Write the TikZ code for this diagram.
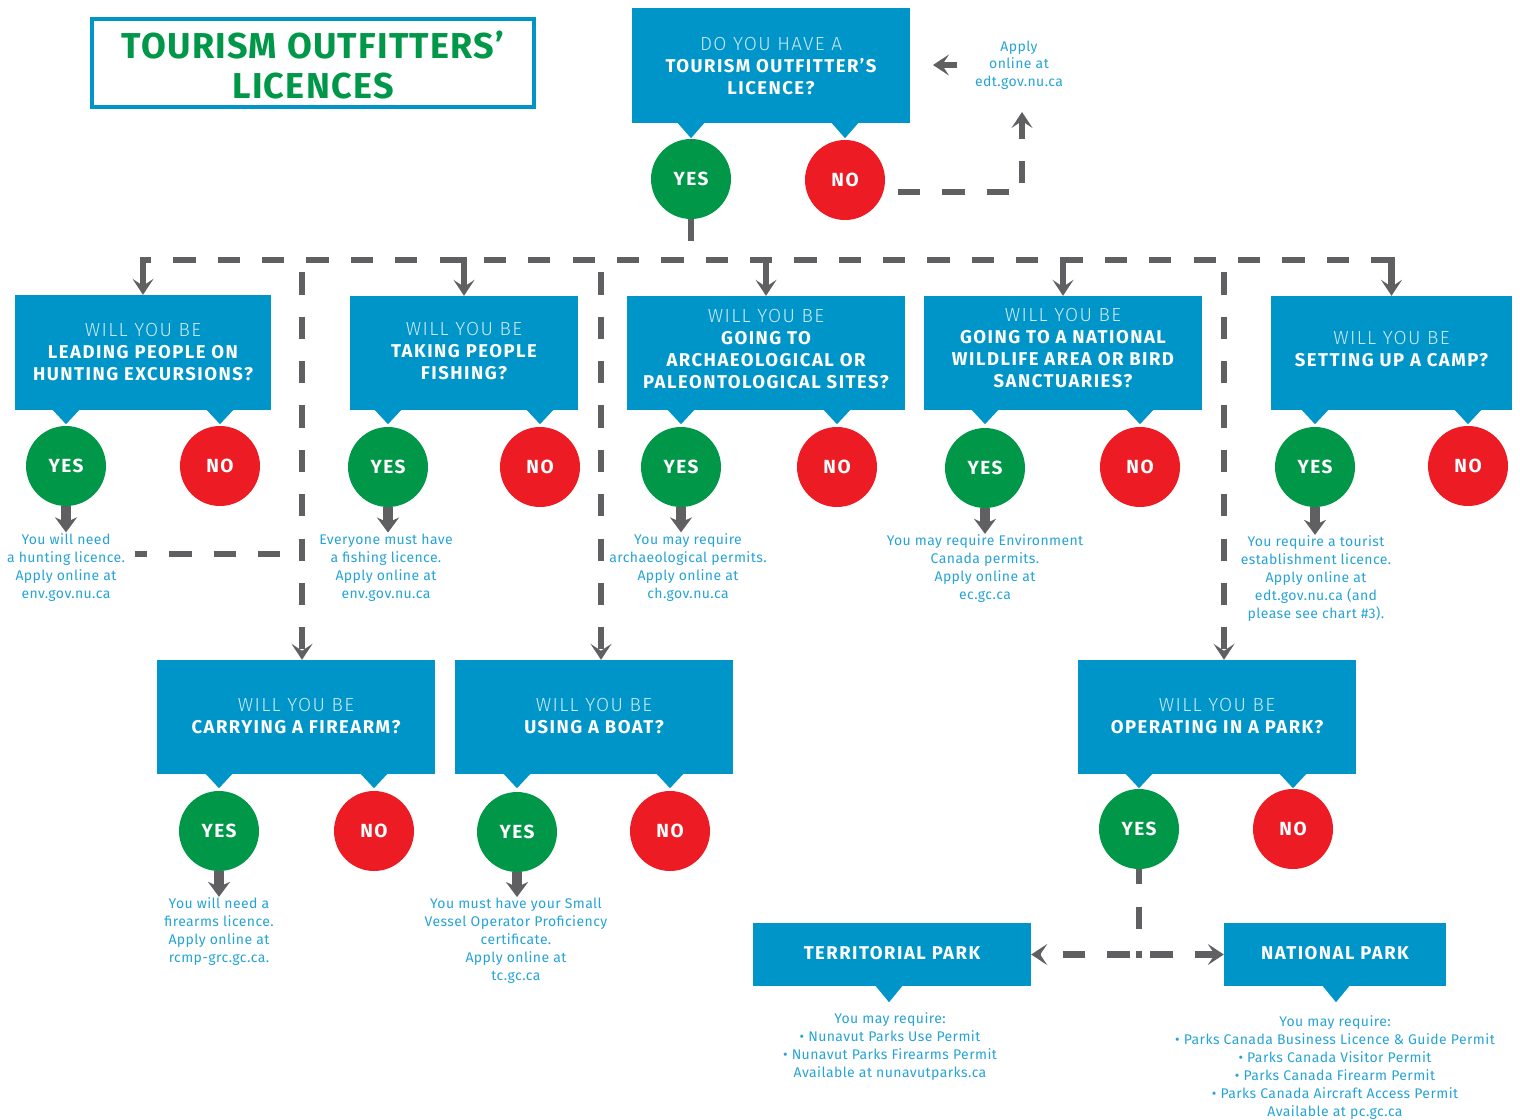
\documentclass[tikz,border=0pt]{standalone}
\usepackage{fontspec}
\setmainfont{Fira Sans}
\newfontfamily\lightf{Fira Sans Light}[LetterSpace=7]
\newfontfamily\boldf{Fira Sans}[LetterSpace=8]
\newfontfamily\circf{Fira Sans}[LetterSpace=8]
\newfontfamily\titlef{Fira Sans}[LetterSpace=3.5]
\newfontfamily\notef{Fira Sans}[LetterSpace=3]
\usetikzlibrary{arrows.meta,calc}
\definecolor{qblue}{RGB}{0,149,200}
\definecolor{ygreen}{RGB}{0,152,72}
\definecolor{nred}{RGB}{237,28,36}
\definecolor{lgrey}{RGB}{96,96,98}
\definecolor{tblue}{RGB}{38,163,213}
\definecolor{wlight}{RGB}{205,233,246}
\newcommand\qfs{\boldf\bfseries\fontsize{18.5}{22}\selectfont}
\newcommand\cfs{\circf\bfseries\fontsize{19}{20}\selectfont}
\newcommand\nfs{\notef\fontsize{14}{18}\selectfont}
\newcommand\wyb[1]{{\lightf\mdseries\fontsize{19}{22}\selectfont\color{wlight}#1}}
\newcommand\ptr[3]{\fill[qblue] ($(#1 |- #2.south)+(-14,-1)$) -- ++(28,0) -- ++(-14,#3) -- cycle;}
\tikzset{
  qbox/.style={fill=qblue, inner sep=0pt},
  qtext/.style={text=white, align=center, inner sep=0pt, font=\qfs},
  yesc/.style={circle, fill=ygreen, minimum size=80pt, inner sep=0pt, text=white, font=\cfs},
  noc/.style={circle, fill=nred, minimum size=80pt, inner sep=0pt, text=white, font=\cfs},
  note/.style={text=tblue, align=center, font=\nfs, inner sep=1pt},
  dashln/.style={draw=lgrey, line width=6.5pt, dash pattern=on 22.2pt off 22.16pt},
  solidln/.style={draw=lgrey, line width=6.5pt},
  dtip/.style={-{Stealth[length=16pt,width=21pt,inset=7pt]}},
  yarr/.style={draw=lgrey, line width=10pt, -{Stealth[length=15pt,width=22pt,inset=5pt]}}
}
\begin{document}
\begin{tikzpicture}[x=1pt,y=-1pt]
\useasboundingbox (0,0) rectangle (1520,1119);
% title
\node[draw=qblue, line width=4pt, minimum width=442pt, minimum height=88pt, inner sep=0pt] (title) at (313,63) {};
\node[text=ygreen, align=center, font=\titlef\bfseries\fontsize{36}{40}\selectfont] (titletext) at (313,65) {TOURISM OUTFITTERS’\\LICENCES};
% top question
\node[qbox, minimum width=278pt, minimum height=115pt] (q0) at (771,65.5) {};
\node[qtext] (q0t) at (771,66) {\wyb{DO YOU HAVE A}\\TOURISM OUTFITTER’S\\LICENCE?};
\node[yesc] (y0) at (691,179) {YES};
\node[noc] (n0) at (845,180) {NO};
\ptr{y0}{q0}{16}\ptr{n0}{q0}{16}
\node[note, font=\notef\fontsize{14}{17.5}\selectfont] (apply) at (1019,65) {Apply\\online at\\edt.gov.nu.ca};
% row 2 questions
\node[qbox, minimum width=256pt, minimum height=115pt] (q1) at (143,352.5) {};
\node[qtext] (q1t) at (143,352.5) {\wyb{WILL YOU BE}\\LEADING PEOPLE ON\\HUNTING EXCURSIONS?};
\node[qbox, minimum width=228pt, minimum height=114pt] (q2) at (464,353) {};
\node[qtext] (q2t) at (464,351) {\wyb{WILL YOU BE}\\TAKING PEOPLE\\FISHING?};
\node[qbox, minimum width=278pt, minimum height=114pt] (q3) at (766,353) {};
\node[qtext] (q3t) at (766,349) {\wyb{WILL YOU BE}\\GOING TO\\ARCHAEOLOGICAL OR\\PALEONTOLOGICAL SITES?};
\node[qbox, minimum width=278pt, minimum height=114pt] (q4) at (1063,353) {};
\node[qtext] (q4t) at (1063,348) {\wyb{WILL YOU BE}\\GOING TO A NATIONAL\\WILDLIFE AREA OR BIRD\\SANCTUARIES?};
\node[qbox, minimum width=241pt, minimum height=114pt] (q5) at (1391.5,353) {};
\node[qtext] (q5t) at (1391.5,349) {\wyb{WILL YOU BE}\\SETTING UP A CAMP?};
\node[yesc] (y1) at (66,466) {YES};   \node[noc] (n1) at (220,466) {NO};
\node[yesc] (y2) at (388,467) {YES};  \node[noc] (n2) at (540,467) {NO};
\node[yesc] (y3) at (681,467) {YES};  \node[noc] (n3) at (837,467) {NO};
\node[yesc] (y4) at (985,468) {YES};  \node[noc] (n4) at (1140,467) {NO};
\node[yesc] (y5) at (1315,467) {YES}; \node[noc] (n5) at (1468,466) {NO};
\ptr{y1}{q1}{15}\ptr{n1}{q1}{15}
\ptr{y2}{q2}{15}\ptr{n2}{q2}{15}
\ptr{y3}{q3}{15}\ptr{n3}{q3}{15}
\ptr{y4}{q4}{15}\ptr{n4}{q4}{15}
\ptr{y5}{q5}{15}\ptr{n5}{q5}{15}
\node[note] (t1) at (66,567.5) {You will need\\a hunting licence.\\Apply online at\\env.gov.nu.ca};
\node[note] (t2) at (386,567.5) {Everyone must have\\a fishing licence.\\Apply online at\\env.gov.nu.ca};
\node[note] (t3) at (688,567.5) {You may require\\archaeological permits.\\Apply online at\\ch.gov.nu.ca};
\node[note] (t4) at (985,569) {You may require Environment\\Canada permits.\\Apply online at\\ec.gc.ca};
\node[note] (t5) at (1316,579) {You require a tourist\\establishment licence.\\Apply online at\\edt.gov.nu.ca (and\\please see chart \#3).};
% row 3
\node[qbox, minimum width=278pt, minimum height=114pt] (fa) at (296,717) {};
\node[qtext] (fat) at (296,716) {\wyb{WILL YOU BE}\\CARRYING A FIREARM?};
\node[qbox, minimum width=278pt, minimum height=114pt] (bt) at (594,717) {};
\node[qtext] (btt) at (594,716) {\wyb{WILL YOU BE}\\USING A BOAT?};
\node[qbox, minimum width=278pt, minimum height=114pt] (pk) at (1217,717) {};
\node[qtext] (pkt) at (1217,716) {\wyb{WILL YOU BE}\\OPERATING IN A PARK?};
\node[yesc] (y6) at (219,831) {YES};  \node[noc] (n6) at (374,831) {NO};
\node[yesc] (y7) at (517,832) {YES};  \node[noc] (n7) at (670,831) {NO};
\node[yesc] (y8) at (1139,829) {YES}; \node[noc] (n8) at (1293,829) {NO};
\ptr{y6}{fa}{15}\ptr{n6}{fa}{15}
\ptr{y7}{bt}{15}\ptr{n7}{bt}{15}
\ptr{y8}{pk}{15}\ptr{n8}{pk}{15}
\node[note] (t6) at (219,932) {You will need a\\firearms licence.\\Apply online at\\rcmp-grc.gc.ca.};
\node[note] (t7) at (516,941) {You must have your Small\\Vessel Operator Proficiency\\certificate.\\Apply online at\\tc.gc.ca};
% parks
\node[qbox, minimum width=278pt, minimum height=63pt] (tp) at (892,954.5) {};
\node[qtext] (tpt) at (892,953.5) {TERRITORIAL PARK};
\node[qbox, minimum width=222pt, minimum height=63pt] (np) at (1335,954.5) {};
\node[qtext] (npt) at (1335,953) {NATIONAL PARK};
\coordinate (tpp) at (889,0); \coordinate (npp) at (1336,0);
\ptr{tpp}{tp}{17}\ptr{npp}{np}{17}
\node[note] (t8) at (890,1046.5) {You may require:\\• Nunavut Parks Use Permit\\• Nunavut Parks Firearms Permit\\Available at nunavutparks.ca};
\node[note] (t9) at (1335,1068) {You may require:\\• Parks Canada Business Licence \& Guide Permit\\• Parks Canada Visitor Permit\\• Parks Canada Firearm Permit\\• Parks Canada Aircraft Access Permit\\Available at pc.gc.ca};
% yes arrows
\foreach \a/\b in {y1/t1,y2/t2,y3/t3,y4/t4,y5/t5,y6/t6,y7/t7}
  \draw[yarr] (\a.south) -- (\a.south |- \b.north);
% top no path
\coordinate (nstart) at (898,192);
\coordinate (nend) at (1022,112);
\draw[dashln, dtip] (nstart) -| (nend);
\coordinate (ap1) at (957,65); \coordinate (ap2) at (933,65);
\draw[solidln, dtip] (ap1) -- (ap2);
% bus
\coordinate (bus) at (0,260);
\draw[dashln] (y0.south) -- (y0.south |- bus);
\draw[dashln, dash phase=14pt] (q1.north |- bus) -- (q5.north |- bus);
\foreach \q in {q1,q2,q3,q4,q5}
  \draw[solidln, dtip] ($(\q.north |- bus)+(0,-3.25)$) -- (\q.north);
% long verticals
\coordinate (v1) at (302,260); \coordinate (v2) at (601,260); \coordinate (v3) at (1224,260);
\draw[dashln, dash phase=32pt, dtip] (v1) -- (v1 |- fa.north);
\draw[dashln, dash phase=32pt, dtip] (v2) -- (v2 |- bt.north);
\draw[dashln, dash phase=32pt, dtip] (v3) -- (v3 |- pk.north);
\coordinate (h1) at (135,554);
\draw[dashln, dash phase=10pt] (h1) -- (v1 |- h1);
% park connectors
\coordinate (pj) at (y8.south |- tp.east);
\draw[dashln, dash phase=7pt] (y8.south) -- ($(pj)+(0,3.25)$);
\draw[dashln, dash phase=35pt, dtip] (pj) -- (tp.east);
\draw[dashln, dash phase=33pt, dtip] (pj) -- (np.west);
\end{tikzpicture}
\end{document}
